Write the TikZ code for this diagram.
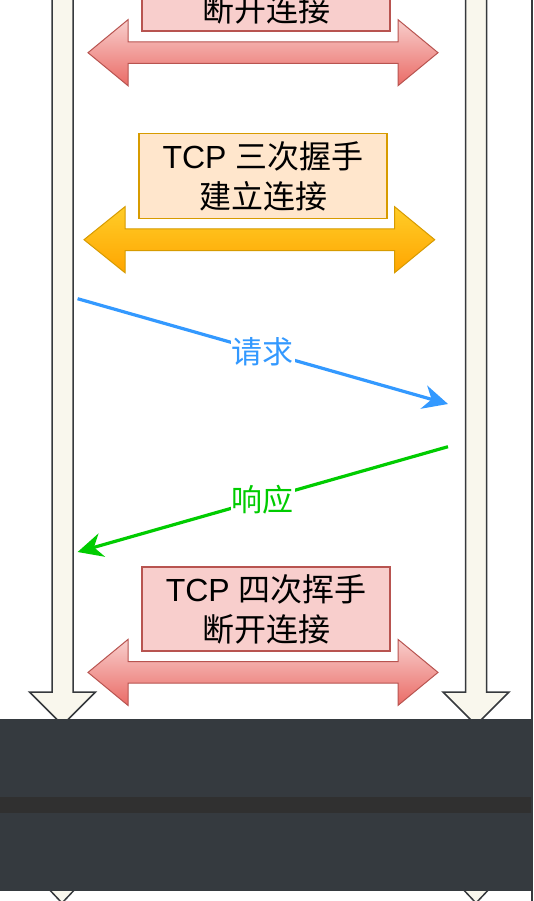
\documentclass[tikz,border=0pt]{standalone}
\usepackage{fontspec}
\setmainfont{Liberation Sans}
\newfontfamily\cjk{Noto Sans CJK SC}
\usetikzlibrary{arrows.meta}
\definecolor{lifefill}{HTML}{F9F7ED}
\definecolor{lifedraw}{HTML}{36393D}
\definecolor{pinkfill}{HTML}{F8CECC}
\definecolor{pinkgrad}{HTML}{EA6B66}
\definecolor{pinkdraw}{HTML}{B85450}
\definecolor{orgfill}{HTML}{FFE6CC}
\definecolor{orgtop}{HTML}{FFCD28}
\definecolor{orgbot}{HTML}{FFA500}
\definecolor{orgdraw}{HTML}{D79B00}
\definecolor{reqblue}{HTML}{3399FF}
\definecolor{respgreen}{HTML}{00CC00}
\definecolor{shadecol}{HTML}{353A3F}
\definecolor{bandcol}{HTML}{303030}
\begin{document}
\begin{tikzpicture}[x=1pt,y=-1pt,
  lifeline/.style={fill=lifefill,draw=lifedraw,line width=1.5pt,line join=miter},
  pinkarrow/.style={top color=pinkfill,bottom color=pinkgrad,draw=pinkdraw,line width=1pt},
  orgarrow/.style={top color=orgtop,bottom color=orgbot,draw=orgdraw,line width=1pt},
  boxtext/.style={align=center,font=\fontsize{32}{40}\selectfont,inner sep=0pt},
  pinkbox/.style={boxtext,fill=pinkfill,draw=pinkdraw,line width=1.5pt,minimum width=248pt,minimum height=84pt},
  orgbox/.style={boxtext,fill=orgfill,draw=orgdraw,line width=1.5pt,minimum width=248pt,minimum height=85pt},
  msg/.style={line width=3.2pt,-{Stealth[length=25pt,width=24pt,inset=8pt]}},
  msglabel/.style={fill=white,inner sep=1pt,font=\fontsize{31}{36}\selectfont\cjk}
]
\useasboundingbox (0,0) rectangle (533,901);
\clip (0,0) rectangle (533,901);
\fill[white] (0,0) rectangle (533,901);

% lifelines
\foreach \cx in {62.5,476}{
  \draw[lifeline] (\cx-10.5,-10) -- (\cx-10.5,692) -- (\cx-33,692) -- (\cx,725)
     -- (\cx+33,692) -- (\cx+10.5,692) -- (\cx+10.5,-10);
}

% top (cut-off) pink box and arrow
\node[pinkbox] (topbox) at (266,-11) {TCP {\cjk 四次挥手}\\{\cjk 断开连接}};
\path[pinkarrow] (88,52.7) -- (128,19.7) -- (128,41.9) -- (398,41.9) -- (398,19.7)
   -- (438,52.7) -- (398,85.7) -- (398,63.5) -- (128,63.5) -- (128,85.7) -- cycle;

% three-way handshake
\node[orgbox] (hs) at (263,176.1) {TCP {\cjk 三次握手}\\{\cjk 建立连接}};
\path[orgarrow] (84,239.7) -- (125,206.7) -- (125,228.9) -- (394.6,228.9) -- (394.6,206.7)
   -- (434.7,239.7) -- (394.6,272.7) -- (394.6,250.5) -- (125,250.5) -- (125,272.7) -- cycle;

% request / response
\coordinate (reqS) at (77.6,298.7);
\coordinate (reqE) at (448,404);
\coordinate (resS) at (448,446.7);
\coordinate (resE) at (77.6,552);
\draw[msg,reqblue] (reqS) -- node[msglabel,text=reqblue] (reqlab) {请求} (reqE);
\draw[msg,respgreen] (resS) -- node[msglabel,text=respgreen] (reslab) {响应} (resE);

% four-way handshake
\node[pinkbox] (fw) at (266.2,609) {TCP {\cjk 四次挥手}\\{\cjk 断开连接}};
\path[pinkarrow] (88,672.4) -- (128,639.4) -- (128,661.6) -- (398,661.6) -- (398,639.4)
   -- (438,672.4) -- (398,705.4) -- (398,683.2) -- (128,683.2) -- (128,705.4) -- cycle;

% arrow tips below the dark band
\foreach \cx in {62,476}{
  \draw[lifeline] (\cx-33,868) -- (\cx,903) -- (\cx+33,868);
}

% dark band
\fill[shadecol] (0,719) rectangle (533,890.7);
\fill[bandcol] (0,796.7) rectangle (533,813.3);
\fill[lifedraw] (531,0) rectangle (533,901);
\end{tikzpicture}
\end{document}
